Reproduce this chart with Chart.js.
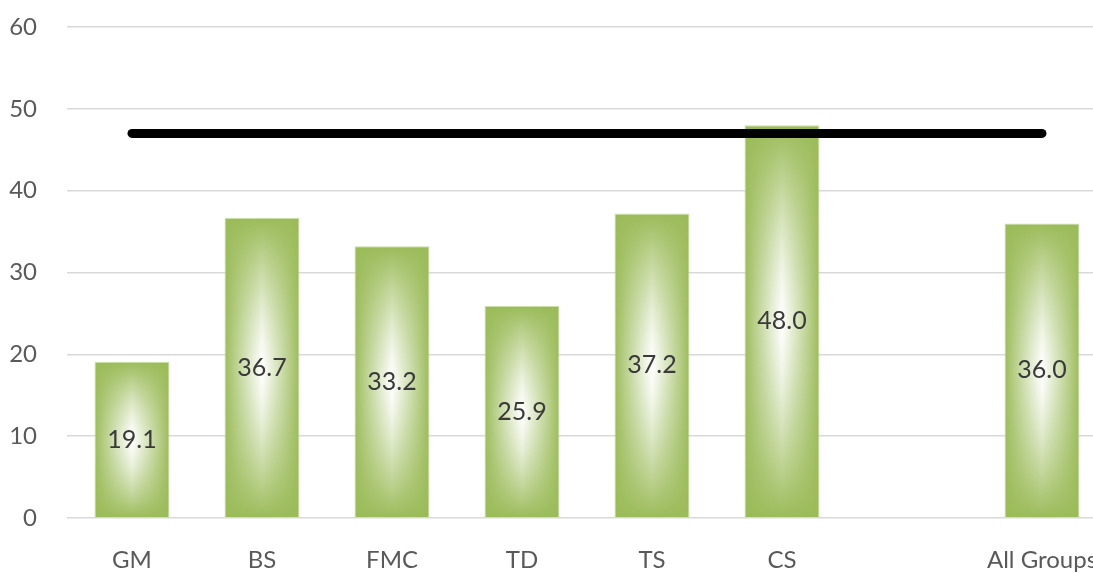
<!DOCTYPE html>
<html>
<head>
<meta charset="utf-8">
<script src="https://cdn.jsdelivr.net/npm/chart.js@4.4.1/dist/chart.umd.min.js"></script>
<style>
  html, body { margin: 0; padding: 0; background: #ffffff; overflow: hidden; }
  #wrap { width: 1107px; height: 574px; }
</style>
</head>
<body>
<div id="wrap"><canvas id="c" width="1107" height="574"></canvas></div>
<script>
const categories = ['GM', 'BS', 'FMC', 'TD', 'TS', 'CS', '', 'All Groups'];
const values = [19.1, 36.7, 33.2, 25.9, 37.2, 48.0, null, 36.0];
const referenceLine = [47, 47, 47, 47, 47, 47, 47, 47];
const yTicks = [0, 10, 20, 30, 40, 50, 60];

const GREEN = [155, 187, 89];
const BAR_FRACTION = 0.577;

// Rectangular "path" gradient tile: green edges, white centre
const TILE = 128;
const tile = document.createElement('canvas');
tile.width = TILE; tile.height = TILE;
(function buildTile() {
  const tctx = tile.getContext('2d');
  const img = tctx.createImageData(TILE, TILE);
  for (let y = 0; y < TILE; y++) {
    for (let x = 0; x < TILE; x++) {
      const dx = Math.abs((x + 0.5) / TILE * 2 - 1);
      const dy = Math.abs((y + 0.5) / TILE * 2 - 1);
      const k = Math.pow(1 - dx, 0.95) * (1 - Math.pow(dy, 1.4));
      const i = (y * TILE + x) * 4;
      img.data[i] = Math.round(GREEN[0] + (255 - GREEN[0]) * k);
      img.data[i + 1] = Math.round(GREEN[1] + (255 - GREEN[1]) * k);
      img.data[i + 2] = Math.round(GREEN[2] + (255 - GREEN[2]) * k);
      img.data[i + 3] = 255;
    }
  }
  tctx.putImageData(img, 0, 0);
})();

function barFill(context) {
  const chart = context.chart;
  const xs = chart.scales.x, ys = chart.scales.y;
  if (!xs || !ys || !chart.chartArea) return 'rgb(155,187,89)';
  const v = context.raw;
  if (v === null || v === undefined) return 'rgb(155,187,89)';
  const cx = xs.getPixelForValue(context.dataIndex);
  const w = (xs.width / categories.length) * BAR_FRACTION;
  const top = ys.getPixelForValue(v);
  const base = ys.getPixelForValue(0);
  const h = Math.max(1, base - top);
  const pat = chart.ctx.createPattern(tile, 'no-repeat');
  pat.setTransform(new DOMMatrix().translate(cx - w / 2, top).scale(w / TILE, h / TILE));
  return pat;
}

const valueLabels = {
  id: 'valueLabels',
  afterDatasetsDraw(chart) {
    const meta = chart.getDatasetMeta(0);
    const ctx = chart.ctx;
    ctx.save();
    ctx.font = '25px Lato';
    ctx.fillStyle = '#3a3a3a';
    ctx.textAlign = 'center';
    ctx.textBaseline = 'middle';
    meta.data.forEach((bar, i) => {
      const v = values[i];
      if (v === null) return;
      const p = bar.getProps(['x', 'y', 'base'], true);
      ctx.fillText(v.toFixed(1), p.x, (p.y + p.base) / 2);
    });
    ctx.restore();
  }
};

new Chart(document.getElementById('c'), {
  data: {
    labels: categories,
    datasets: [
      {
        type: 'bar',
        data: values,
        backgroundColor: barFill,
        borderColor: 'rgba(200,220,160,0.9)',
        borderWidth: 1,
        barPercentage: BAR_FRACTION,
        categoryPercentage: 1,
        order: 2
      },
      {
        type: 'line',
        data: referenceLine,
        borderColor: '#000000',
        borderWidth: 9,
        borderCapStyle: 'round',
        pointRadius: 0,
        fill: false,
        order: 1
      }
    ]
  },
  options: {
    responsive: false,
    animation: false,
    devicePixelRatio: 1,
    layout: { padding: { top: 27, right: 0, bottom: 0, left: 0 } },
    plugins: { legend: { display: false }, tooltip: { enabled: false } },
    scales: {
      x: {
        type: 'category',
        grid: { display: false, drawTicks: false },
        border: { display: false },
        ticks: { color: '#595959', font: { family: 'Lato', size: 24 }, padding: 28, maxRotation: 0, autoSkip: false },
        afterFit(scale) { scale.height = 56; scale.paddingLeft = 0; scale.paddingRight = 0; }
      },
      y: {
        min: 0, max: 60,
        afterBuildTicks(scale) { scale.ticks = yTicks.map(v => ({ value: v })); },
        grid: { color: '#d9d9d9', lineWidth: 1.5, drawTicks: false },
        border: { display: false },
        ticks: { color: '#595959', font: { family: 'Lato', size: 24 }, padding: 30 },
        afterFit(scale) { scale.width = 67; scale.paddingTop = 0; scale.paddingBottom = 0; }
      }
    }
  },
  plugins: [valueLabels]
});
</script>
</body>
</html>
